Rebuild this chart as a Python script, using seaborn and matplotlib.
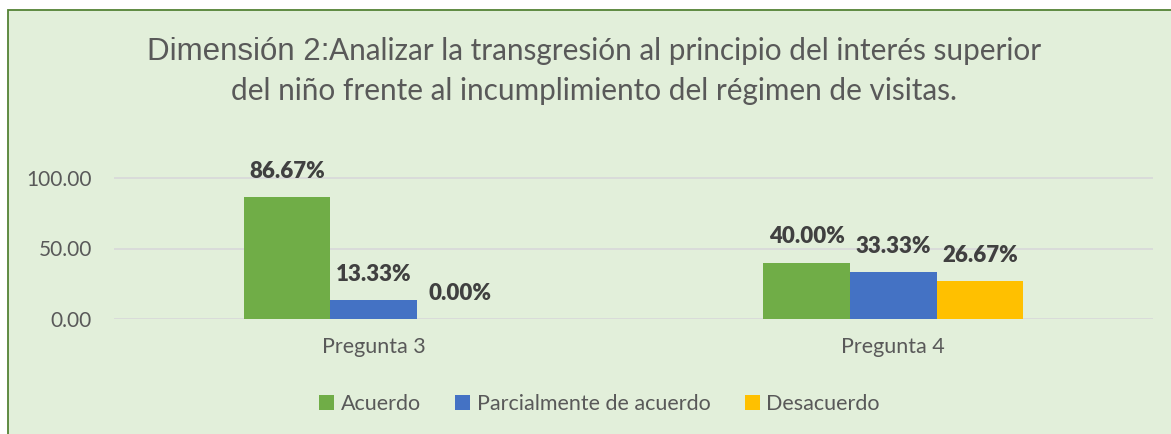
import matplotlib
matplotlib.use("Agg")
import matplotlib.pyplot as plt
from matplotlib.patches import Rectangle, Patch
import seaborn as sns
import pandas as pd

# ---- data ----
categories = ["Pregunta 3", "Pregunta 4"]
series_names = ["Acuerdo", "Parcialmente de acuerdo", "Desacuerdo"]
acuerdo = [86.67, 40.00]
parcial = [13.33, 33.33]
desacuerdo = [0.00, 26.67]
yticks = [0, 50, 100]
title_part1 = "Dimensión 2:"
title_part2 = "Analizar la transgresión al principio del interés superior"
title_line2 = "del niño frente al incumplimiento del régimen de visitas."

colors = ["#70AD47", "#4472C4", "#FFC000"]
BG = "#E2EFDA"
TXT = "#595959"
LBL = "#404040"

rows = []
for name, vals in zip(series_names, [acuerdo, parcial, desacuerdo]):
    for c, v in zip(categories, vals):
        rows.append({"Pregunta": c, "Respuesta": name, "Valor": v})
df = pd.DataFrame(rows)

sns.set_theme(style="white")
plt.rcParams["font.family"] = ["Lato", "DejaVu Sans"]

W, H = 1171, 434
fig = plt.figure(figsize=(W / 100, H / 100), dpi=100)
fig.patch.set_facecolor("white")
bgrect = Rectangle((7.5 / W, -0.05), 1.2, (H - 10.5) / H + 0.05,
                   transform=fig.transFigure, facecolor=BG,
                   edgecolor="#548235", linewidth=1.3, zorder=-10)
fig.patches.append(bgrect)

ax_left, ax_right = 114, 1153
y0px, y100px = 319, 178
ymax = 120
ax_h = (y0px - y100px) * ymax / 100
ax = fig.add_axes([ax_left / W, 1 - y0px / H, (ax_right - ax_left) / W, ax_h / H])
ax.set_facecolor("none")
ax.set_zorder(5)

sns.barplot(data=df, x="Pregunta", y="Valor", hue="Respuesta", order=categories,
            hue_order=series_names, palette=colors, width=0.5, ax=ax,
            saturation=1, legend=False, edgecolor="none", linewidth=0, zorder=3)

ax.set_xlim(-0.5, 1.5)
ax.set_ylim(0, ymax)
ax.set_yticks(yticks)
ax.set_yticklabels([f"{t:.2f}" for t in yticks])
ax.set_xlabel("")
ax.set_ylabel("")
for s in ax.spines.values():
    s.set_visible(False)
ax.grid(False)
for t in yticks:
    ax.axhline(t, color="#D9D9D9", linewidth=1.3, zorder=1)
ax.tick_params(axis="y", length=0, pad=16, labelsize=15, labelcolor=TXT)
ax.tick_params(axis="x", length=0, pad=13, labelsize=15.5, labelcolor=TXT)

for cont in ax.containers:
    vals = [b.get_height() for b in cont]
    ax.bar_label(cont, labels=[f"{v:.2f}%" for v in vals], padding=11,
                 fontsize=16, fontweight="heavy", color=LBL, clip_on=False)

handles = [Patch(facecolor=c, edgecolor="none") for c in colors]
leg = fig.legend(handles, series_names, loc="center", bbox_to_anchor=(599.5 / W, 1 - 404 / H),
                 ncol=3, frameon=False, fontsize=15.5, handlelength=0.7, handleheight=0.7,
                 handletextpad=0.3, columnspacing=1.6, labelcolor=TXT)
leg.set_zorder(6)

# ---- title (two fonts on the first line) ----
yl1 = 1 - 60 / H
yl2 = 1 - 100 / H
fig.canvas.draw()
r = fig.canvas.get_renderer()
probe = fig.text(0, 0, title_line2, fontsize=10, family=["Lato", "DejaVu Sans"])
w10 = probe.get_window_extent(r).width
probe.remove()
fs2 = 10 * 728 / w10
t2 = fig.text(594 / W, yl2, title_line2, fontsize=fs2, color=TXT, ha="center", va="baseline",
              family=["Lato", "DejaVu Sans"], zorder=6)
ta = fig.text(0, yl1, title_part1, fontsize=22.5, color=TXT, ha="left", va="baseline",
              family=["Liberation Sans", "DejaVu Sans"], zorder=6)
tb = fig.text(0, yl1, title_part2, fontsize=fs2, color=TXT, ha="left", va="baseline",
              family=["Lato", "DejaVu Sans"], zorder=6)
wa = ta.get_window_extent(r).width
wb = tb.get_window_extent(r).width
start = 594 - (wa + wb) / 2
ta.set_x(start / W)
tb.set_x((start + wa) / W)

fig.savefig("out.png", dpi=100, facecolor=fig.get_facecolor())
